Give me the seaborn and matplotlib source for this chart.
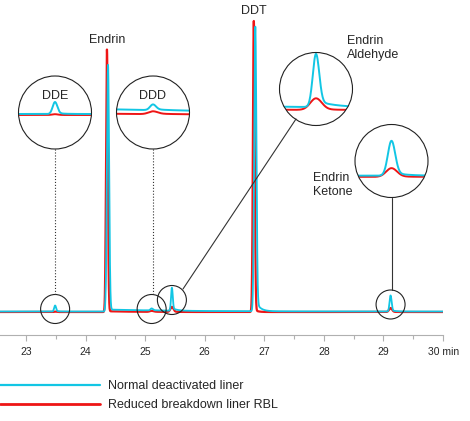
import numpy as np
import pandas as pd
import matplotlib
matplotlib.use("Agg")
import matplotlib.pyplot as plt
import seaborn as sns
from matplotlib.patches import Circle
from matplotlib.lines import Line2D
from matplotlib.transforms import IdentityTransform

# ---------------- data ----------------
peak_names = ["DDE", "Endrin", "DDD", "Endrin Aldehyde", "DDT", "Endrin Ketone"]
rt_normal = [23.49, 24.378, 25.11, 25.45, 26.85, 29.12]
rt_rbl = [23.49, 24.36, 25.11, 25.45, 26.825, 29.12]
height_normal = [6.0, 247.0, 2.0, 23.0, 285.0, 16.0]
height_rbl = [0.4, 263.0, 1.0, 5.0, 291.0, 4.0]
sigma_normal = [0.016, 0.018, 0.02, 0.014, 0.018, 0.017]
sigma_rbl = [0.02, 0.015, 0.03, 0.025, 0.015, 0.025]
tail_frac_normal = [0.1, 0.008, 0.2, 0.12, 0.04, 0.1]
tail_tau_normal = [0.05, 1.2, 0.1, 0.08, 0.07, 0.06]
tail_frac_rbl = [0.05, 0.003, 0.3, 0.1, 0.01, 0.1]
tail_tau_rbl = [0.05, 0.5, 0.1, 0.06, 0.05, 0.06]
baseline_normal = 0.5
baseline_rbl = 0.0
series_labels = ["Normal deactivated liner", "Reduced breakdown liner RBL"]
tick_values = [23, 24, 25, 26, 27, 28, 29, 30]
tick_labels = ["23", "24", "25", "26", "27", "28", "29", ""]
x_unit = "30 min"
time_start, time_end = 22.565, 30.0

colors = {"Normal deactivated liner": "#12c6e4", "Reduced breakdown liner RBL": "#ee1515"}


def trace(t, rts, hs, sig, tf, tau, base):
    y = np.full_like(t, base)
    for rt, h, s, f, ta in zip(rts, hs, sig, tf, tau):
        g = np.exp(-0.5 * ((t - rt) / s) ** 2)
        d = np.clip(t - rt, 0, None)
        tail = np.where(t > rt, f * np.exp(-d / ta) * (1 - g), 0.0)
        y += h * (g + tail)
    return y


t = np.round(np.arange(time_start, time_end + 1e-9, 0.002), 4)
df = pd.concat([
    pd.DataFrame({"time": t, "signal": trace(t, rt_rbl, height_rbl, sigma_rbl, tail_frac_rbl, tail_tau_rbl, baseline_rbl),
                  "liner": series_labels[1]}),
    pd.DataFrame({"time": t, "signal": trace(t, rt_normal, height_normal, sigma_normal, tail_frac_normal, tail_tau_normal, baseline_normal),
                  "liner": series_labels[0]}),
], ignore_index=True)

# ---------------- figure ----------------
sns.set_style("white")
plt.rcParams["font.family"] = ["Liberation Sans", "DejaVu Sans"]
W, H = 470, 421
fig = plt.figure(figsize=(W / 100, H / 100), dpi=100)

BASE_PX, AX_BOTTOM_PX, AX_RIGHT_PX = 312, 335, 443
ax = fig.add_axes([0, 1 - AX_BOTTOM_PX / H, AX_RIGHT_PX / W, AX_BOTTOM_PX / H])
lw = {series_labels[1]: 1.6, series_labels[0]: 1.3}
sns.lineplot(data=df, x="time", y="signal", hue="liner", hue_order=[series_labels[1], series_labels[0]],
             palette=colors, estimator=None, sort=False, legend=False, ax=ax, linewidth=1.3)
for line, lab in zip(ax.get_lines(), [series_labels[1], series_labels[0]]):
    line.set_linewidth(lw[lab])

ax.set_xlim(time_start, time_end)
ax.set_ylim(-(AX_BOTTOM_PX - BASE_PX), BASE_PX)
ax.set_xlabel("")
ax.set_ylabel("")
ax.set_yticks([])
for s in ["left", "right", "top"]:
    ax.spines[s].set_visible(False)
ax.spines["bottom"].set_color("#b0b0b0")
ax.spines["bottom"].set_linewidth(0.8)
ax.set_xticks(tick_values)
ax.set_xticklabels(tick_labels)
ax.set_xticks(np.arange(23.5, 30, 1.0), minor=True)
ax.tick_params(axis="x", which="major", length=4.5, width=0.8, color="#b0b0b0", pad=4, labelsize=7.5, bottom=True)
ax.tick_params(axis="x", which="minor", length=3, width=0.8, color="#b0b0b0", bottom=True)
fig.text(428 / W, 1 - 352 / H, x_unit, ha="left", va="center", fontsize=7.5)

fig.canvas.draw()


def px(x, y):
    return (x, H - y)


def data_px(tt, yy):
    dx, dy = ax.transData.transform((tt, yy))
    return dx, H - dy


# peak labels
ax.text(24.36, BASE_PX - 40, "Endrin", ha="center", va="center", fontsize=9)
ax.text(26.82, BASE_PX - 11, "DDT", ha="center", va="center", fontsize=9)
fig.text(347 / W, 1 - 48 / H, "Endrin\nAldehyde", ha="left", va="center", fontsize=9, linespacing=1.15)
fig.text(313 / W, 1 - 185 / H, "Endrin\nKetone", ha="left", va="center", fontsize=9, linespacing=1.15)

# small circles at the baseline, large magnified circles
small_r = 14.5
big_r = 36.5
insets = [
    (0, 3, (55, 112.5), 0.25, (-17, 19.5), "DDE", ((55, 149), (55, 295)), ":"),
    (2, 3, (153, 112.5), 0.25, (-12, 13.5), "DDD", ((152.5, 149), (152.5, 295)), ":"),
    (3, 12, (316, 89), 0.16, (-6.65, 24.9), None, ((296, 119), (183, 289)), "-"),
    (5, 7.5, (391.5, 161), 0.17, (-9.45, 24.0), None, ((391.5, 198), (391.5, 290)), "-"),
]
for idx, yoff, (cx, cy), hw, ylim, lab, conn, ls in insets:
    rt = rt_normal[idx]
    sx, sy = data_px(rt, 0)
    fig.add_artist(Circle(px(sx, sy - yoff), small_r, transform=IdentityTransform(), fill=False,
                          ec="#222222", lw=0.8, zorder=5))
    (x1, y1), (x2, y2) = conn
    fig.add_artist(Line2D([x1, x2], [H - y1, H - y2], transform=IdentityTransform(), color="#333333",
                          lw=0.8, ls=ls, zorder=5))
    axi = fig.add_axes([(cx - big_r) / W, 1 - (cy + big_r) / H, 2 * big_r / W, 2 * big_r / H])
    axi.set_facecolor("none")
    sub = df[(df["time"] >= rt - hw * 1.2) & (df["time"] <= rt + hw * 1.2)]
    bg = Circle((0.5, 0.5), 0.5, transform=axi.transAxes, fc="white", ec="none", zorder=0)
    axi.add_patch(bg)
    sns.lineplot(data=sub, x="time", y="signal", hue="liner", hue_order=[series_labels[1], series_labels[0]],
                 palette=colors, estimator=None, sort=False, legend=False, ax=axi, linewidth=1.4)
    ring = Circle((0.5, 0.5), 0.5, transform=axi.transAxes, fill=False, ec="#222222", lw=0.8, zorder=6,
                  clip_on=False)
    axi.add_patch(ring)
    clip = Circle((0.5, 0.5), 0.5, transform=axi.transAxes)
    for line in axi.get_lines():
        line.set_clip_path(clip)
        line.set_linewidth(1.4)
    axi.set_xlim(rt - hw, rt + hw)
    axi.set_ylim(*ylim)
    axi.set_xticks([]); axi.set_yticks([])
    axi.set_xlabel(""); axi.set_ylabel("")
    for s in axi.spines.values():
        s.set_visible(False)
    if lab:
        axi.text(0.5, 0.73, lab, transform=axi.transAxes, ha="center", va="center", fontsize=9)

# legend
handles = [Line2D([], [], color=colors[series_labels[0]], lw=1.6),
           Line2D([], [], color=colors[series_labels[1]], lw=2.0)]
ax.legend(handles, series_labels, loc="upper left", bbox_to_anchor=(0, 1 - 380 / H),
          bbox_transform=fig.transFigure, frameon=False, handlelength=8.0, handletextpad=0.64,
          labelspacing=0.55, borderpad=0, borderaxespad=0, fontsize=9)

fig.savefig("out.png", dpi=100)
